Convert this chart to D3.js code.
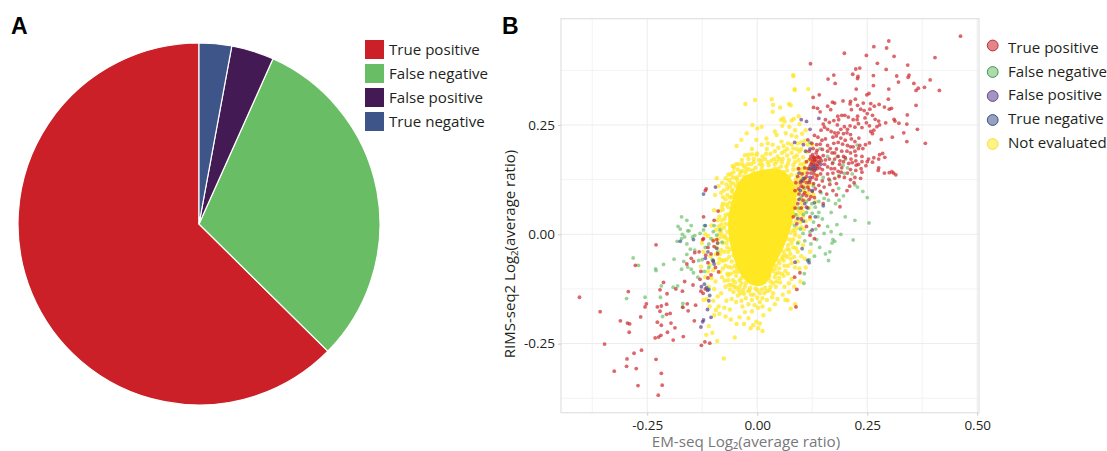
<!DOCTYPE html>
<html>
<head>
<meta charset="utf-8">
<script src="https://cdn.jsdelivr.net/npm/d3@7"></script>
<style>
html, body { margin: 0; padding: 0; background: #fff; overflow: hidden; }
text { font-family: "Open Sans", sans-serif; fill: #231f20; }
</style>
</head>
<body>
<svg id="chart" width="1107" height="451"></svg>
<script>
var pieLabels = ["True positive", "False negative", "False positive", "True negative"];
var pieValues = [62.6, 30.7, 3.8, 2.9];
var pieColors = ["#cb2027", "#69be65", "#431a54", "#3d5589"];

var scatterLabels = ["True positive", "False negative", "False positive", "True negative", "Not evaluated"];
var scatterFill = ["#cb2027", "#69be65", "#5e3a8e", "#3d5589", "#ffe722"];
var scatterStroke = ["#b5202a", "#2f8a4c", "#5e3a8e", "#2f3f8f", "#f5dc2a"];
var xTicks = [-0.25, 0, 0.25, 0.5];
var yTicks = [-0.25, 0, 0.25];
var xMinor = [-0.375, -0.125, 0.125, 0.375];
var yMinor = [-0.375, -0.125, 0.125, 0.375];

var truePositive = [
[.462,.453],[.404,.404],[.299,.442],[.265,.429],[.294,.426],[.198,.414],[.248,.409],[.311,.407],[.273,.391],[.121,.390],
[.342,.387],[.293,.377],[.224,.378],[.233,.380],[.217,.366],[.174,.364],[.161,.355],[.229,.361],[.228,.356],[.264,.363],
[.317,.362],[.345,.364],[.343,.359],[.177,.345],[.321,.348],[.264,.340],[.393,.353],[.356,.345],[.380,.336],[.366,.334],
[.361,.329],[.414,.329],[.299,.332],[.225,.332],[.254,.322],[.249,.319],[.127,.313],[.141,.319],[.298,.309],[.361,.295],
[.171,.302],[.176,.300],[.195,.305],[.212,.304],[.223,.309],[.211,.298],[.228,.295],[.241,.300],[.258,.299],[.277,.297],
[.266,.293],[.160,.293],[.137,.288],[.128,.290],[.143,.280],[.167,.285],[.214,.285],[.235,.286],[.256,.286],[.289,.291],
[.305,.288],[.243,.283],[.199,.272],[.192,.272],[.183,.270],[.250,.276],[.228,.270],[.300,.286],[.341,.273],[.227,.262],
[.245,.266],[.262,.272],[.268,.263],[.276,.259],[.311,.263],[.313,.259],[.322,.254],[.174,.260],[.185,.262],[.207,.268],
[.218,.262],[.155,.262],[.164,.256],[.150,.252],[.153,.245],[.145,.238],[.182,.250],[.190,.240],[.198,.246],[.205,.240],
[.211,.248],[.222,.245],[.230,.253],[.238,.244],[.248,.255],[.255,.248],[.265,.238],[.272,.246],[.278,.250],[.292,.255],
[.340,.252],[.364,.240],[.333,.232],[.160,.240],[.168,.235],[.176,.232],[.184,.232],[.196,.230],[.204,.232],[.212,.228],
[.258,.235],[.262,.230],[.130,.226],[.138,.222],[.147,.215],[.155,.218],[.172,.222],[.180,.225],[.190,.220],[.200,.215],
[.214,.218],[.222,.212],[.231,.220],[.282,.217],[.307,.222],[.340,.212],[.382,.208],[.115,.216],[.124,.208],[.135,.205],
[.143,.206],[.160,.203],[.174,.208],[.184,.210],[.194,.206],[.205,.203],[.218,.200],[.233,.203],[.246,.205],[.255,.209],
[.118,.190],[.127,.196],[.136,.192],[.148,.194],[.160,.190],[.170,.186],[.180,.195],[.192,.190],[.212,.186],[.224,.180],
[.240,.196],[.126,.182],[.134,.186],[.128,.176],[.137,.178],[.143,.174],[.150,.180],[.120,.172],[.130,.170],[.140,.166],
[.155,.170],[.164,.172],[.176,.172],[.188,.168],[.200,.175],[.213,.172],[.224,.168],[.238,.178],[.253,.172],[.265,.175],
[.278,.182],[.285,.185],[.290,.176],[.276,.172],[.262,.165],[.250,.166],[.230,.160],[.216,.164],[.187,.160],[.171,.162],
[.153,.160],[.122,.160],[.132,.158],[.112,.166],[.108,.152],[.124,.148],[.136,.150],[.148,.148],[.160,.154],[.176,.150],
[.192,.152],[.225,.158],[.236,.150],[.247,.157],[.276,.152],[.275,.146],[.289,.140],[.300,.141],[.310,.140],[.315,.136],
[.306,.143],[.238,.142],[.224,.146],[.212,.148],[.205,.140],[.191,.142],[.172,.140],[.160,.138],[.144,.138],[.129,.138],
[.112,.132],[.102,.138],[.094,.150],[.092,.132],[.104,.122],[.120,.124],[.134,.126],[.148,.122],[.163,.126],[.176,.128],
[.186,.132],[.212,.125],[.222,.130],[.235,.128],[.220,.118],[.210,.110],[.204,.100],[.140,.112],[.152,.108],[.165,.114],
[.180,.116],[.115,.108],[.100,.110],[.088,.118],[.086,.100],[.095,.092],[.108,.095],[.125,.098],[.143,.098],[.158,.092],
[.172,.100],[.180,.090],[.130,.084],[.118,.080],[.104,.078],[.092,.070],[.086,.060],[.100,.060],[.112,.062],[.150,.070],
[.188,.063],[.120,.040],[.100,.035],[.090,.024],[.082,.040],[.112,.018],[.140,.020],[.120,-.002],[.130,-.010],
[.085,-.098],[.090,-.126],[.088,-.166],[.097,-.088],
[.122,.178],[.126,.170],[.130,.176],[.124,.164],[.134,.172],[.128,.160],[.138,.160],[.132,.166],[.120,.156],[.126,.152],
[.140,.176],[.146,.168],[.136,.156],[.142,.152],[.116,.150],[.114,.140],[.122,.140],[.130,.146],[.136,.134],[.126,.130],
[.118,.118],[.112,.118],[.104,.108],[.108,.128],[.098,.118],[.094,.104],[.104,.090],[.112,.088],[.122,.086],[.132,.104],
[.118,.102],[.128,.116],[.166,.196],[.176,.186],[.184,.178],[.204,.190],[.196,.178],[.208,.162],[.196,.166],[.168,.150],
[.184,.144],[.198,.130],[.212,.200],[.222,.190],[.230,.196],[.238,.166],
[-.404,-.144],[-.357,-.177],[-.311,-.198],[-.295,-.203],[-.290,-.205],[-.291,-.224],[-.347,-.251],[-.263,-.265],[-.280,-.272],
[-.296,-.285],[-.297,-.302],[-.325,-.313],[-.275,-.307],[-.230,-.286],[-.218,-.318],[-.216,-.345],[-.271,-.346],[-.225,-.368],
[-.232,-.237],[-.224,-.235],[-.219,-.231],[-.204,-.224],[-.187,-.214],[-.196,-.203],[-.218,-.208],[-.227,-.201],[-.191,-.242],
[-.168,-.234],[-.143,-.198],[-.127,-.254],[-.119,-.246],[-.108,-.249],[-.265,-.189],[-.255,-.166],[-.252,-.159],[-.293,-.131],
[-.277,-.071],[-.230,-.024],[-.227,-.166],[-.218,-.164],[-.206,-.160],[-.221,-.176],[-.206,-.183],[-.198,-.181],[-.169,-.167],
[-.159,-.159],[-.157,-.175],[-.140,-.162],[-.213,-.110],[-.221,-.127],[-.205,-.136],[-.185,-.125],[-.170,-.130],[-.165,-.108],
[-.146,-.116],[-.130,-.103],[-.128,-.130],[-.123,-.135],[-.118,-.125],[-.128,-.085],[-.112,-.100],[-.105,-.093],[-.150,-.055],
[-.145,-.062],[-.160,-.068],[-.142,-.042],[-.122,-.010],[-.112,-.030],[-.105,-.045],[-.100,-.062],[-.095,-.076],[-.088,-.086],
[-.112,-.065],[-.098,-.028],[-.090,-.045],[-.100,-.015],[-.117,-.048],[-.118,.100],[-.116,.104],[-.089,.053],[-.124,-.012],
[-.122,.040],[-.098,.032],[-.132,-.040],[-.092,-.012]
];

var falseNegative = [
[.227,.204],[.201,.172],[.186,.135],[.198,.139],[.222,.113],[.250,.084],[.254,.026],[.222,.032],[.200,.040],[.168,.050],
[.181,.022],[.190,.000],[.160,.018],[.148,.035],[.140,.050],[.132,.062],[.124,.070],[.112,.050],[.105,.045],[.128,.028],
[.133,.012],[.120,.006],[.152,.002],[.172,-.012],[.170,-.020],[.168,.006],[.176,-.016],[.218,-.013],[.135,-.012],[.142,-.030],
[.155,-.045],[.130,-.050],[.118,-.058],[.108,-.015],[.122,-.022],[.162,-.060],[.165,-.040],[.107,-.090],[.106,-.112],[.120,.210],
[.143,.196],[.160,.178],[.172,.165],[.182,.178],[.195,.158],[.205,.152],[.216,.138],[.228,.108],[.240,.098],[.140,.165],
[.128,.145],[.150,.130],[.165,.122],[.185,.105],[.196,.088],[.145,.095],[.128,.110],[.118,.120],[.108,.105],[.140,.075],
[.152,.082],[.162,.078],[.178,.070],[.186,.078],[.100,.085],[.095,.060],[.125,.048],[.138,.040],[.088,.045],[.085,.020],
[.098,.012],[.104,.002],[.092,-.020],[.112,.075],
[-.282,-.054],[-.270,-.071],[-.231,-.079],[-.230,-.083],[-.213,-.069],[-.189,-.057],[-.297,-.147],[-.255,-.144],[-.218,-.118],
[-.191,-.121],[-.181,-.118],[-.220,-.144],[-.169,-.158],[-.215,-.188],[-.170,-.166],[-.182,-.016],[-.172,-.010],[-.165,-.006],
[-.147,-.006],[-.142,-.003],[-.130,.002],[-.122,.010],[-.120,.020],[-.150,.020],[-.160,.032],[-.155,.008],[-.170,.000],[-.175,.012],
[-.180,.018],[-.172,.040],[-.158,.008],[-.160,-.022],[-.152,-.034],[-.142,-.036],[-.160,-.046],[-.167,-.062],[-.158,-.075],
[-.150,-.080],[-.145,-.088],[-.172,-.080],[-.133,-.060],[-.125,-.058],[-.118,-.030],[-.110,-.022],[-.105,-.010],[-.100,.006],
[-.135,-.098],[-.120,-.085],[-.110,-.076],[-.102,-.058],[-.090,-.040],[-.092,-.002],[-.098,.020],[-.085,.010],[-.080,-.018]
];

var falsePositive = [
[.140,.265],[.100,.262],[.112,.258],[.120,.240],[.105,.205],[.120,.195],[.085,.210],[.110,.190],[.132,.150],[.145,.160],
[.100,.122],[.120,.130],[.095,.080],[.108,.070],[.095,.140],[.125,.010],[.092,.036],
[-.128,-.212],[-.124,-.200],[-.122,-.196],[-.110,-.152],[-.113,-.172],[-.105,-.190],[-.127,-.120],[-.113,-.128],[-.092,-.032],
[-.090,-.020],[-.118,-.055],[-.095,.108],[.086,-.064]
];

var trueNegative = [
[.105,.128],[.120,.150],[.128,.155],[.115,.060],[.132,.040],[.105,.030],[.125,.100],[.098,.100],[.150,.065],[.130,.072],
[.102,-.033],[.118,-.065],[.115,-.060],
[-.175,-.016],[-.145,-.012],[-.120,-.114],[-.115,-.122],[-.110,-.126],[-.118,.020],[-.122,.092],[-.100,-.060],[-.108,-.140],
[-.112,-.040],[-.098,-.068]
];

var notEvaluated = [
[.082,.362],[.085,.332],[-.027,.298],[-.005,.307],[.033,.309],[.036,.296],[.052,.290],[.076,.295],[.035,.280],[.059,.265],
[.083,.264],[-.011,.250],[.010,.246],[.000,.242],[-.024,.231],[-.002,.216],[-.047,.202],[-.036,.216],[.021,.219],[.040,.235],
[.044,.227],[.065,.231],[.089,.223],[.057,.248],[.073,.246],[-.028,.181],[.000,.185],[-.053,.152],[-.070,.114],[-.062,.109],
[.116,.332],[.082,.364],[.085,.330],[.072,.298],[.054,.262],[.062,.258],[.078,.260],[.094,.270],[.096,.252],[.102,.230],
[.110,.238],[.086,.238],[.078,.226],[.092,.208],[.100,.195],[.070,.208],[.055,.212],[.048,.198],[.035,.205],[.022,.195],
[.010,.205],[-.012,.195],[-.020,.182],[-.035,.170],[-.008,.172],[.012,.178],[.030,.184],[.046,.178],[.062,.190],[.078,.186],
[.090,.180],[.104,.176],[.112,.188],[.118,.170],[.098,.160],[.086,.165],[.072,.170],[.056,.165],[.040,.160],[.024,.165],
[.006,.160],[-.014,.160],[-.030,.155],[-.044,.148],[-.056,.130],[-.048,.130],[-.040,.135],[-.026,.142],[-.010,.146],[.010,.150],
[.048,.150],[.066,.155],[.082,.148],[.096,.148],[.108,.140],[.118,.150],[.110,.125],[.100,.130],[.090,.135],[.084,.118],
[.092,.112],[.104,.100],[.114,.094],[.098,.082],[.088,.090],[.108,.076],[.118,.060],[.098,.048],[.090,.060],[.104,.052],
[.088,.030],[.098,.028],[.106,.012],[.086,.005],[.096,-.006],[.082,-.012],[.070,-.025],[.082,-.030],[.092,-.040],[.100,-.050],
[.108,-.056],[.075,-.045],[.068,-.052],[.078,-.066],[.086,-.076],[.096,-.078],[.060,-.060],[.050,-.066],[.062,-.072],[.070,-.090],
[.078,-.102],[.060,-.095],[.048,-.088],[.040,-.098],[.052,-.110],[.062,-.120],[.042,-.120],[.030,-.108],[.072,-.132],[.086,-.160],
[.076,-.170],[.069,-.151],[.058,-.138],[.036,-.135],[.028,-.128],[.016,-.135],[.022,-.150],[.006,-.135],[.000,-.128],[-.008,-.138],
[-.018,-.128],[-.028,-.120],[-.012,-.150],[-.026,-.146],[-.038,-.135],[-.048,-.122],[-.040,-.105],[-.055,-.105],[-.060,-.090],
[-.048,-.095],[-.065,-.075],[-.058,-.062],[-.070,-.058],[-.075,-.040],[-.068,-.030],[-.078,-.020],[-.072,-.008],[-.082,.004],
[-.075,.015],[-.068,.006],[-.082,.022],[-.074,.036],[-.066,.046],[-.078,.056],[-.070,.068],[-.062,.072],[-.058,.086],[-.068,.090],
[-.056,.102],[-.048,.110],[-.060,.118],[-.072,.128],[-.080,.118],[-.088,.110],[-.082,.095],[-.078,.085],[-.086,.040],[-.090,.032],
[-.094,.010],[-.088,-.010],[-.092,-.030],[-.084,-.045],[-.076,-.060],[-.088,-.066],[-.078,-.078],[-.068,-.090],[-.080,-.098],
[-.066,-.105],[-.072,-.120],[-.062,-.126],[-.054,-.132],[-.044,-.140],[-.058,-.148],[-.048,-.155],[-.036,-.152],[-.070,-.152],
[-.034,-.165],[-.020,-.160],[-.006,-.162],[.006,-.155],[-.028,-.178],[-.012,-.176],[.002,-.168],[.012,-.165],[-.040,-.190],
[-.002,-.200],[.006,-.204],[-.009,-.208],[.012,-.221],[.002,-.215],[-.047,-.205],[-.051,-.236],[-.091,-.244],[-.076,-.284],
[-.094,-.173],[-.088,-.165],[-.075,-.168],[-.062,-.172],[-.090,-.142],[-.082,-.135],[-.098,-.125],[-.095,-.108],[-.104,-.100],
[-.100,-.082],[-.108,-.070],[-.106,-.050],[-.110,-.120],[-.115,-.148],[.028,.133],[.045,.140],[.060,.142],[-.018,.130],[-.034,.120],
[-.044,.118],[-.052,.092],[-.054,.058],[-.062,.040],[-.064,.022],[-.066,-.012],[-.060,-.034],[-.054,-.048],[-.050,-.072],[-.044,-.086],
[.060,-.040],[.066,-.010],[.076,.004],[.078,.025],[.082,.048],[.082,.072],[.080,.098],[.072,.132],[.054,.128],[.022,.125],
[-.006,.128],[-.030,.102],[.090,.100],[.076,.112],[.066,.118],[.040,-.080],[.028,-.095],[.018,-.122],[-.030,-.095],[-.036,-.112],
[.100,.210],[.115,.205],[.125,.165],[.135,.135],[.125,.115],[.118,.090],[.110,.030],[.120,-.040],[.125,.205],[.108,.214],
[-.098,.055],[-.104,.020],[-.112,-.004],[-.118,.000],[-.126,-.020],[-.122,-.040],[-.112,-.085],[-.128,-.074],[-.118,-.098],[-.122,-.150],
[-.100,-.152],[-.108,-.165],[-.098,-.185],[-.086,-.182],[-.072,-.188],[-.060,-.195],[-.110,-.210],[-.116,-.230],[-.102,-.225],
[.015,.140],[-.025,.150],[.050,.172],[.068,.180],[.038,.172],[-.042,.160],[-.060,.138],[-.092,.128],[.090,.195],[.105,.160],
[.128,.090],[.132,.075],[.115,.110],[.120,.035],[.104,-.025],[.092,-.062],[.110,-.076],[.098,-.108],[.084,-.120],[.072,-.112],
[.064,-.150],[.046,-.148],[.028,-.172],[.014,-.185],[-.020,-.192],[-.030,-.205],[.040,-.160],[-.015,-.215],
[-.034,.145],[-.022,.160],[-.008,.165],[.004,.170],[.018,.172],[.032,.168],[.044,.166],[.058,.172],[.070,.162],[.082,.158],
[.092,.150],[.100,.140],[.104,.118],[.096,.122],[.088,.126],[.094,.096],[.100,.072],[.094,.054],[.092,.040],[.090,.014],
[.086,-.002],[.078,-.020],[.072,-.036],[.064,-.048],[.056,-.056],[.050,-.078],[.042,-.090],[.036,-.112],[.030,-.120],[.022,-.130],
[.010,-.126],[-.004,-.124],[-.016,-.122],[-.026,-.112],[-.036,-.100],[-.046,-.078],[-.052,-.086],[-.058,-.076],[-.064,-.052],
[-.066,-.040],[-.070,-.020],[-.074,-.004],[-.072,.024],[-.072,.044],[-.066,.062],[-.062,.084],[-.058,.098],[-.054,.116],[-.046,.126],
[-.038,.142],[-.030,.132],[-.018,.148],[-.004,.152],[.012,.158],[.026,.158],[.040,.150],[.054,.155],[.068,.146],[.078,.136],
[.086,.110],[.088,.078],[.086,.062],[.086,.044],[.082,.010],[.074,-.012],[.068,-.034],[.058,-.050],[.048,-.060],[.042,-.072],
[.034,-.084],[.026,-.100],[-.020,-.130],[-.032,-.128],[-.040,-.120],[-.050,-.110],[-.058,-.116],[-.066,-.094],[-.072,-.072],
[-.080,-.060],[-.082,-.036],[-.080,-.006],[-.082,.012],[-.080,.032],[-.078,.070],[-.072,.080],[-.068,.104],[-.064,.124],
[-.054,.142],[-.048,.160],[-.034,.160],[-.020,.172],[-.002,.182],[.010,.168],[.020,.184],[.040,.190],[.056,.186],[.068,.195],
[.078,.205],[.084,.176],[.094,.170],[.104,.150],[.112,.150],[.106,.110],[.110,.095],[.102,.062],[.104,.040],[.100,.016],
[.094,-.018],[.088,-.032],[.084,-.052],[.076,-.056],[.070,-.072],[.064,-.084],[.056,-.090],[.050,-.100],[.044,-.108],[.034,-.144],
[.012,-.146],[.000,-.145],[-.014,-.138],[-.030,-.136],[-.042,-.128],[-.052,-.120],[-.064,-.116],[-.074,-.106],[-.084,-.086],
[-.086,-.056],[-.094,-.046],[-.090,-.020],[-.086,.000],[-.088,.018],[-.084,.054],[-.080,.064],[-.076,.100],[-.066,.136],
[-.056,.156],[-.012,.183],[.024,.208],[.060,.202],[.082,.196],[.096,.190],[.110,.165],[-.096,.090],[-.100,-.012]
];

// solid part of the yellow cloud, too dense to read single points
var denseCore = [
[-.030,.132],[.030,.150],[.068,.138],[.088,.095],[.080,.030],[.060,-.030],[.038,-.072],[.020,-.112],[-.012,-.116],
[-.040,-.088],[-.060,-.030],[-.066,.030],[-.054,.088]
];

var svg = d3.select("#chart");

svg.append("text").attr("x", 11).attr("y", 34)
    .style("font-family", "Liberation Sans").style("font-weight", "bold").style("font-size", "23px").style("fill", "#000").text("A");
svg.append("text").attr("x", 502).attr("y", 34)
    .style("font-family", "Liberation Sans").style("font-weight", "bold").style("font-size", "23px").style("fill", "#000").text("B");

// panel A
var pie = d3.pie().sort(null).startAngle(0).endAngle(-2 * Math.PI);
var arc = d3.arc().innerRadius(0).outerRadius(181);
svg.append("g").attr("transform", "translate(199,224)")
    .selectAll("path")
    .data(pie(pieValues))
    .enter()
    .append("path")
    .attr("d", arc)
    .attr("fill", function(d, i) { return pieColors[i]; })
    .attr("stroke", "#fff")
    .attr("stroke-width", 1.2);

var pieLegend = svg.append("g").selectAll("g")
    .data(pieLabels)
    .enter()
    .append("g")
    .attr("transform", function(d, i) { return "translate(365," + (40 + i * 24) + ")"; });
pieLegend.append("rect").attr("width", 19).attr("height", 19)
    .attr("fill", function(d, i) { return pieColors[i]; });
pieLegend.append("text").attr("x", 24).attr("y", 15)
    .style("font-size", "15.1px").text(function(d) { return d; });

// panel B
var x = d3.scaleLinear().domain([-0.446, 0.504]).range([561, 979]);
var y = d3.scaleLinear().domain([-0.408, 0.493]).range([412.7, 18.7]);

var grid = svg.append("g");
grid.selectAll("line.minorx").data(xMinor).enter().append("line")
    .attr("x1", x).attr("x2", x).attr("y1", y(-0.408)).attr("y2", y(0.493))
    .attr("stroke", "#f3f3f3");
grid.selectAll("line.minory").data(yMinor).enter().append("line")
    .attr("y1", y).attr("y2", y).attr("x1", x(-0.446)).attr("x2", x(0.504))
    .attr("stroke", "#f3f3f3");
grid.selectAll("line.majorx").data(xTicks).enter().append("line")
    .attr("x1", x).attr("x2", x).attr("y1", y(-0.408)).attr("y2", y(0.493))
    .attr("stroke", "#ececec");
grid.selectAll("line.majory").data(yTicks).enter().append("line")
    .attr("y1", y).attr("y2", y).attr("x1", x(-0.446)).attr("x2", x(0.504))
    .attr("stroke", "#ececec");

svg.append("path")
    .datum(denseCore)
    .attr("d", d3.line().x(function(d) { return x(d[0]); }).y(function(d) { return y(d[1]); }).curve(d3.curveCardinalClosed))
    .attr("fill", "#ffe722");

// same order as they stack in the reference
var groups = [
    { pts: notEvaluated, i: 4 },
    { pts: falseNegative, i: 1 },
    { pts: truePositive, i: 0 },
    { pts: falsePositive, i: 2 },
    { pts: trueNegative, i: 3 }
];
groups.forEach(function(g) {
    svg.append("g").selectAll("circle")
        .data(g.pts)
        .enter()
        .append("circle")
        .attr("cx", function(d) { return x(d[0]); })
        .attr("cy", function(d) { return y(d[1]); })
        .attr("r", g.i == 4 ? 2.2 : 1.9)
        .attr("fill", scatterFill[g.i])
        .attr("fill-opacity", g.i == 4 ? 0.75 : 0.68);
});

svg.append("rect")
    .attr("x", 561).attr("y", 18.7).attr("width", 418).attr("height", 394)
    .attr("fill", "none").attr("stroke", "#e3e3e3").attr("stroke-width", 1.3);

var tickFormat = function(d) { return d3.format(".2f")(d).replace("−", "-"); };
var xAxis = d3.axisBottom(x).tickValues(xTicks).tickSize(3).tickPadding(5).tickFormat(tickFormat);
var yAxis = d3.axisLeft(y).tickValues(yTicks).tickSize(3).tickPadding(3).tickFormat(tickFormat);
var gx = svg.append("g").attr("transform", "translate(0,412.7)").call(xAxis);
var gy = svg.append("g").attr("transform", "translate(561,0)").call(yAxis);
gx.select(".domain").remove();
gy.select(".domain").remove();
gx.selectAll("line").attr("stroke", "#cccccc");
gy.selectAll("line").attr("stroke", "#cccccc");
gx.selectAll("text").style("font-size", "13.5px").style("font-family", "Open Sans");
gy.selectAll("text").style("font-size", "13.5px").style("font-family", "Open Sans");

svg.append("text").attr("x", 746).attr("y", 447).attr("text-anchor", "middle")
    .style("font-size", "15.2px").style("fill", "#77787b").text("EM-seq Log₂(average ratio)");

var yLabel = svg.append("text").attr("transform", "translate(515,254) rotate(-90)").attr("text-anchor", "middle")
    .style("font-size", "15px");
yLabel.append("tspan").text("RIMS-seq2 Log");
yLabel.append("tspan").attr("dy", 3).style("font-size", "9.5px").text("2");
yLabel.append("tspan").attr("dy", -3).text("(average ratio)");

var legendY = [45.5, 72, 96, 120, 144];
var legendTextY = [53, 77, 100, 124, 148];
var scatterLegend = svg.append("g").selectAll("g")
    .data(scatterLabels)
    .enter()
    .append("g");
scatterLegend.append("circle").attr("r", 5.4)
    .attr("cx", 992.7)
    .attr("cy", function(d, i) { return legendY[i]; })
    .attr("fill", function(d, i) { return scatterFill[i]; })
    .attr("fill-opacity", 0.55)
    .attr("stroke", function(d, i) { return scatterStroke[i]; })
    .attr("stroke-width", 0.9);
scatterLegend.append("text").attr("x", 1008)
    .attr("y", function(d, i) { return legendTextY[i]; })
    .style("font-size", "15.1px").text(function(d) { return d; });
</script>
</body>
</html>
